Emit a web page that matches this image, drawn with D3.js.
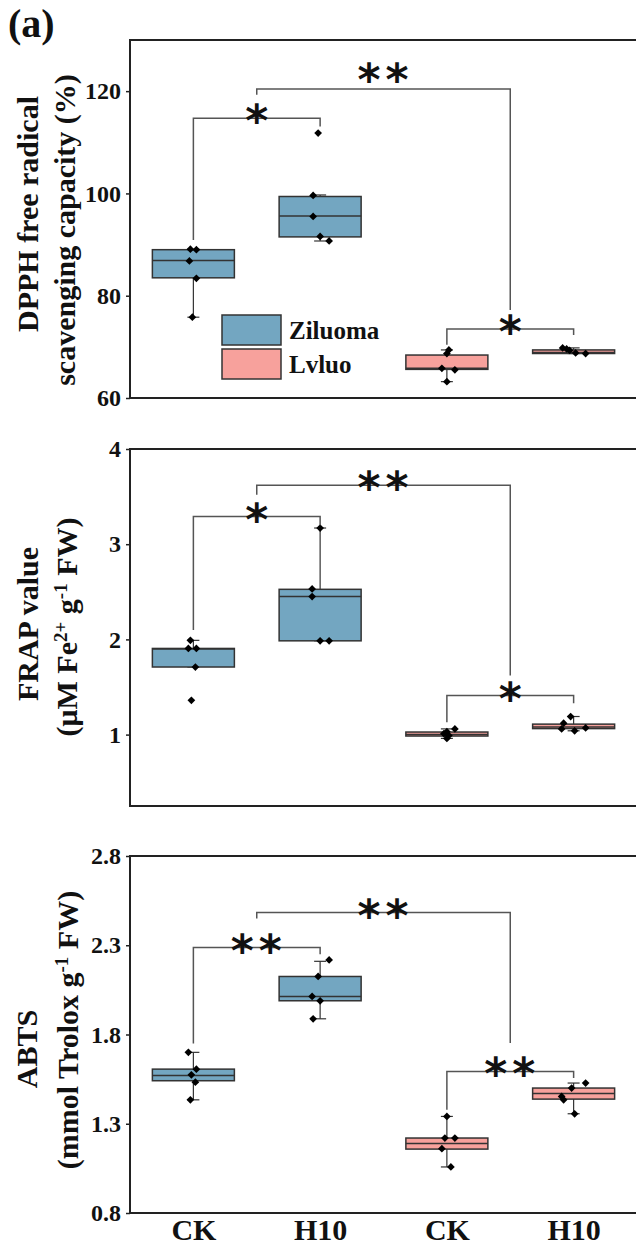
<!DOCTYPE html>
<html>
<head>
<meta charset="utf-8">
<script src="https://cdn.jsdelivr.net/npm/d3@7"></script>
<style>
  body { margin: 0; background: #fff; }
  svg { display: block; }
</style>
</head>
<body>
<div id="chart"></div>
<script>
// groups along x
const keys = ['Z-CK', 'Z-H10', 'L-CK', 'L-H10']
const groupNames = ['CK', 'H10', 'CK', 'H10']
const cultivars = ['Ziluoma', 'Lvluo']
const cultivarIdx = [0, 0, 1, 1]

// DPPH
const dpphTicks = [60, 80, 100, 120]
const dpphQ1 = [83.5, 91.5, 65.6, 68.7]
const dpphMed = [86.9, 95.6, 65.8, 68.9]
const dpphQ3 = [89.0, 99.4, 68.4, 69.4]
const dpphLo = [75.8, 90.7, 63.2, 68.7]
const dpphHi = [89.1, 99.7, 69.4, 69.8]
const dpphPts = [
    [89.1, 89.0, 86.8, 83.4, 75.8],
    [111.8, 99.6, 95.5, 91.6, 90.7],
    [69.4, 68.7, 65.8, 65.5, 63.2],
    [69.8, 69.6, 69.3, 68.8, 68.7]
]
// [from, to, level, left end, right end, label bottom, label]
const dpphSig = [
    [[0], [1], 114.7, 90.9, 113.1, 114.7, '*'],
    [[0, 1], [2, 3], 120.4, 119.3, 77.2, 122.8, '**'],
    [[2], [3], 73.5, 70.4, 72.3, 73.5, '*']
]

// FRAP
const frapTicks = [1, 2, 3, 4]
const frapQ1 = [1.71, 1.985, 0.985, 1.063]
const frapMed = [1.90, 2.45, 1.00, 1.08]
const frapQ3 = [1.905, 2.526, 1.027, 1.11]
const frapLo = [1.71, 1.985, 0.96, 1.04]
const frapHi = [1.99, 3.17, 1.06, 1.19]
const frapPts = [
    [1.99, 1.905, 1.905, 1.71, 1.36],
    [3.17, 2.53, 2.45, 1.985, 1.985],
    [1.06, 1.03, 1.01, 0.99, 0.96],
    [1.19, 1.12, 1.07, 1.06, 1.04]
]
const frapSig = [
    [[0], [1], 3.29, 2.1, 3.2, 3.29, '*'],
    [[0, 1], [2, 3], 3.62, 3.52, 1.62, 3.62, '**'],
    [[2], [3], 1.41, 1.13, 1.33, 1.41, '*']
]

// ABTS
const abtsTicks = [0.8, 1.3, 1.8, 2.3, 2.8]
const abtsQ1 = [1.541, 1.989, 1.158, 1.438]
const abtsMed = [1.57, 2.013, 1.19, 1.47]
const abtsQ3 = [1.606, 2.125, 1.22, 1.50]
const abtsLo = [1.434, 1.888, 1.058, 1.356]
const abtsHi = [1.70, 2.21, 1.341, 1.528]
const abtsPts = [
    [1.70, 1.606, 1.574, 1.533, 1.434],
    [2.218, 2.125, 2.013, 1.989, 1.888],
    [1.341, 1.22, 1.22, 1.16, 1.058],
    [1.528, 1.50, 1.453, 1.434, 1.356]
]
const abtsSig = [
    [[0], [1], 2.287, 1.75, 2.25, 2.287, '**'],
    [[0, 1], [2, 3], 2.483, 2.45, 1.753, 2.483, '**'],
    [[2], [3], 1.593, 1.378, 1.557, 1.593, '**']
]

// horizontal scatter of the points (px)
const dpphJit = [[-3, 3, -4, 3, -1], [-2, -7, -7, 0, 9], [2, 0, -5, 8, 0], [-11, -7, -4, 2, 12]]
const frapJit = [[-3, -5, 3, 2, -2], [0, -8, -8, 0, 9], [8, 0, -3, 2, 0], [-3, -10, 12, -12, 1]]
const abtsJit = [[-5, 3, -2, 2, -3], [9, -2, -8, 0, -7], [0, -2, 8, -5, 4], [12, -2, -12, -10, 1]]

const W = 636, H = 1249
const left = 130, right = 637
const serif = "'Liberation Serif', 'Times New Roman', serif"
const fill = ['#73a6c1', '#f7a19c']
const edge = '#333'

const svg = d3.select('#chart').append('svg')
    .attr('width', W)
    .attr('height', H)
    .style('font-family', serif)

const x = d3.scalePoint().domain(keys).range([left, right]).padding(0.5)
const boxW = 82

const panels = [
    { top: 40, bottom: 398, domain: [60, 130], ticks: dpphTicks, fmt: d3.format('d'),
      q1: dpphQ1, med: dpphMed, q3: dpphQ3, lo: dpphLo, hi: dpphHi, pts: dpphPts, jit: dpphJit, sig: dpphSig },
    { top: 449, bottom: 806, domain: [0.25, 4], ticks: frapTicks, fmt: d3.format('d'),
      q1: frapQ1, med: frapMed, q3: frapQ3, lo: frapLo, hi: frapHi, pts: frapPts, jit: frapJit, sig: frapSig },
    { top: 856, bottom: 1213, domain: [0.8, 2.8], ticks: abtsTicks, fmt: d3.format('.1f'),
      q1: abtsQ1, med: abtsMed, q3: abtsQ3, lo: abtsLo, hi: abtsHi, pts: abtsPts, jit: abtsJit, sig: abtsSig }
]

panels.forEach(function (p, pi) {
    let y = d3.scaleLinear().domain(p.domain).range([p.bottom, p.top])
    let g = svg.append('g')

    // 坐标框
    g.append('rect')
        .attr('x', left)
        .attr('y', p.top)
        .attr('width', 560)
        .attr('height', p.bottom - p.top)
        .attr('fill', 'none')
        .attr('stroke', '#222')
        .attr('stroke-width', 2)

    // y 轴
    let yAxis = g.append('g')
        .attr('transform', `translate(${left},0)`)
        .call(d3.axisLeft(y).tickValues(p.ticks).tickSize(4).tickPadding(5).tickFormat(p.fmt))
    yAxis.select('.domain').remove()
    yAxis.selectAll('line').attr('stroke', '#222').attr('stroke-width', 1.5)
    yAxis.selectAll('text')
        .attr('fill', '#111')
        .style('font-family', serif)
        .style('font-size', '24px')
        .style('font-weight', 'bold')

    // 须线
    keys.forEach(function (k, i) {
        let cx = x(k)
        let wg = g.append('g').attr('stroke', edge).attr('stroke-width', 1.2)
        wg.append('line').attr('x1', cx).attr('x2', cx).attr('y1', y(p.lo[i])).attr('y2', y(p.q1[i]))
        wg.append('line').attr('x1', cx).attr('x2', cx).attr('y1', y(p.q3[i])).attr('y2', y(p.hi[i]))
        wg.append('line').attr('x1', cx - 6).attr('x2', cx + 6).attr('y1', y(p.lo[i])).attr('y2', y(p.lo[i]))
        wg.append('line').attr('x1', cx - 6).attr('x2', cx + 6).attr('y1', y(p.hi[i])).attr('y2', y(p.hi[i]))
    })

    // 箱体
    g.append('g')
        .selectAll('rect')
        .data(keys)
        .enter()
        .append('rect')
        .attr('x', d => x(d) - boxW / 2)
        .attr('y', (d, i) => y(p.q3[i]))
        .attr('width', boxW)
        .attr('height', (d, i) => Math.max(1, y(p.q1[i]) - y(p.q3[i])))
        .attr('fill', (d, i) => fill[cultivarIdx[i]])
        .attr('stroke', edge)
        .attr('stroke-width', 1.5)

    g.append('g')
        .selectAll('line')
        .data(keys)
        .enter()
        .append('line')
        .attr('x1', d => x(d) - boxW / 2)
        .attr('x2', d => x(d) + boxW / 2)
        .attr('y1', (d, i) => y(p.med[i]))
        .attr('y2', (d, i) => y(p.med[i]))
        .attr('stroke', edge)
        .attr('stroke-width', 1.5)

    // 散点
    let diamond = d3.symbol(d3.symbolSquare, 30)
    keys.forEach(function (k, i) {
        g.append('g')
            .selectAll('path')
            .data(p.pts[i])
            .enter()
            .append('path')
            .attr('d', diamond)
            .attr('transform', (d, j) => `translate(${x(k) + p.jit[i][j]},${y(d)}) rotate(45)`)
            .attr('fill', '#000')
    })

    // 显著性标注
    p.sig.forEach(function (s) {
        let xa = d3.mean(s[0], i => x(keys[i]))
        let xb = d3.mean(s[1], i => x(keys[i]))
        g.append('path')
            .attr('d', `M${xa},${y(s[3])}V${y(s[2])}H${xb}V${y(s[4])}`)
            .attr('fill', 'none')
            .attr('stroke', '#555')
            .attr('stroke-width', 1.5)
        g.append('text')
            .attr('x', (xa + xb) / 2 + (s[6].length > 1 ? 2 : 0))
            .attr('y', y(s[5]) + 18)
            .attr('text-anchor', 'middle')
            .attr('font-family', "'DejaVu Sans', sans-serif")
            .attr('font-size', 44)
            .attr('font-weight', 'bold')
            .attr('letter-spacing', s[6].length > 1 ? 5 : 0)
            .attr('fill', '#111')
            .text(s[6])
    })

    // x 轴标签
    if (pi === 2) {
        let xAxis = g.append('g')
            .attr('transform', `translate(0,${p.bottom})`)
            .call(d3.axisBottom(x).tickSize(0).tickPadding(6).tickFormat((d, i) => groupNames[i]))
        xAxis.select('.domain').remove()
        xAxis.selectAll('text')
            .attr('fill', '#111')
            .style('font-family', serif)
            .style('font-size', '30px')
            .style('font-weight', 'bold')
    }
})

// y 轴标题
function yTitle (bx, cy, parts) {
    let t = svg.append('text')
        .attr('transform', `translate(${bx},${cy}) rotate(-90)`)
        .attr('text-anchor', 'middle')
        .attr('font-size', 30)
        .attr('font-weight', 'bold')
        .attr('fill', '#111')
    parts.forEach(function (pt) {
        let sp = t.append('tspan').text(pt[0])
        if (pt[1]) sp.attr('baseline-shift', 'super').attr('font-size', 19)
    })
}
yTitle(38, 214, [['DPPH free radical']])
yTitle(75, 230, [['scavenging capacity (%)']])
yTitle(38, 624, [['FRAP value']])
yTitle(77, 627, [['(μM Fe'], ['2+', true], [' g'], ['-1', true], [' FW)']])
yTitle(37, 1049, [['ABTS']])
yTitle(78, 1030, [['(mmol Trolox g'], ['-1', true], [' FW)']])

// 图例
const legend = svg.append('g')
cultivars.forEach(function (c, i) {
    legend.append('rect')
        .attr('x', 222)
        .attr('y', 315 + i * 34)
        .attr('width', 59)
        .attr('height', 30)
        .attr('fill', fill[i])
        .attr('stroke', edge)
        .attr('stroke-width', 1.5)
    legend.append('text')
        .attr('x', 289)
        .attr('y', 339 + i * 34)
        .attr('font-size', 25)
        .attr('font-weight', 'bold')
        .attr('fill', '#111')
        .text(c)
})

// 面板编号
svg.append('text')
    .attr('x', 8)
    .attr('y', 37)
    .attr('font-size', 40)
    .attr('font-weight', 'bold')
    .attr('fill', '#111')
    .text('(a)')
</script>
</body>
</html>
